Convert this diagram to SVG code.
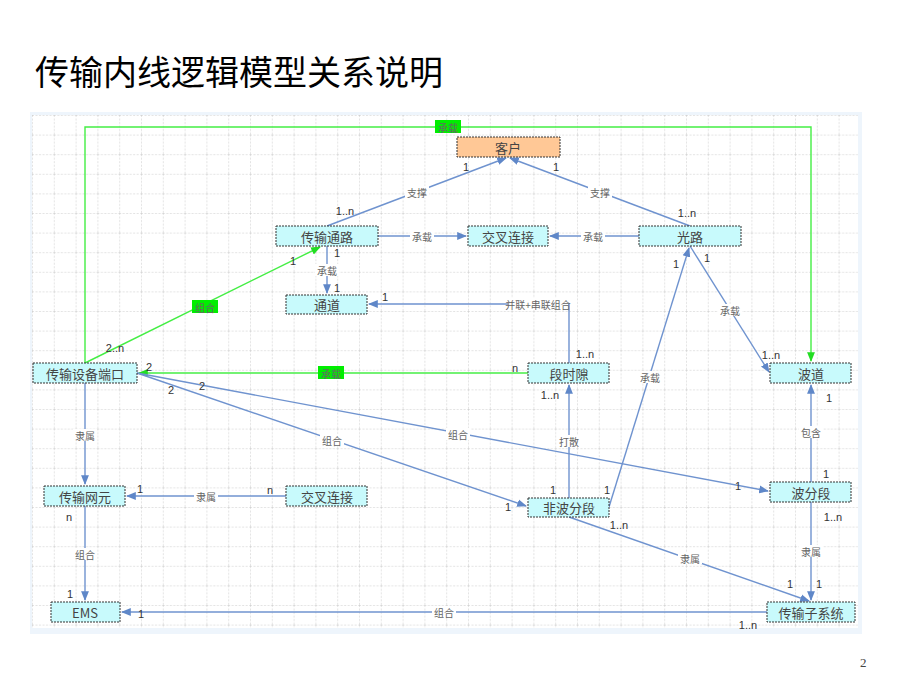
<svg xmlns="http://www.w3.org/2000/svg" width="920" height="690" viewBox="0 0 920 690">
<defs>
<pattern id="grid" x="32" y="115" width="21.8" height="19.6" patternUnits="userSpaceOnUse">
<path d="M0 0V19.6M0 0H21.8" fill="none" stroke="#b8b8b8" stroke-width="0.8" stroke-dasharray="2 1.5"/>
</pattern>
<marker id="a" viewBox="0 0 10 10" refX="9" refY="5" markerWidth="7" markerHeight="7" orient="auto-start-reverse"><path d="M0 1L10 5L0 9z" fill="#5f87c8"/></marker>
<marker id="g" viewBox="0 0 10 10" refX="9" refY="5" markerWidth="7" markerHeight="7" orient="auto-start-reverse"><path d="M0 1L10 5L0 9z" fill="#22dd22"/></marker>
</defs>
<style>
.n rect{fill:#c8fafc;stroke:#333;stroke-width:1;stroke-dasharray:2 1}
.n text{font-family:"Noto Sans CJK SC","Liberation Serif",serif;font-size:13px;fill:#444;text-anchor:middle;dominant-baseline:central}
.b{stroke:#6f93cf;stroke-width:1.4;fill:none;marker-end:url(#a)}
.gr{stroke:#44ee44;stroke-width:1.4;fill:none}
.lb{font-family:"Noto Sans CJK SC",sans-serif;font-size:10px;fill:#666;text-anchor:middle;dominant-baseline:central}
.lbbg{fill:#fff}
.glb{fill:#00ee00}
.m{font-family:"Liberation Sans",sans-serif;font-size:11px;fill:#333;text-anchor:middle}
</style>
<rect width="920" height="690" fill="#fff"/>
<text x="35" y="85" font-family="Noto Sans CJK SC,sans-serif" font-size="34" fill="#000">传输内线逻辑模型关系说明</text>
<rect x="30" y="112" width="832" height="522" fill="#eef5fc"/>
<rect x="32" y="115" width="826" height="513" fill="#fff"/>
<rect x="32" y="115" width="826" height="513" fill="url(#grid)"/>
<g id="connectors">
<path class="gr" d="M85 363V127H811V361" marker-end="url(#g)"/>
<path class="gr" d="M85 363L320 247" marker-end="url(#g)"/>
<path class="gr" d="M528 373H139" marker-end="url(#g)"/>
<path class="b" d="M327 226L506 158"/>
<path class="b" d="M690 226L510 158"/>
<path class="b" d="M378 236H466"/>
<path class="b" d="M639 236H550"/>
<path class="b" d="M327 246V293"/>
<path class="b" d="M569 363V304H369"/>
<path class="b" d="M690 246L769 372"/>
<path class="b" d="M609 507L689 248"/>
<path class="b" d="M569 498V385"/>
<path class="b" d="M811 482V385"/>
<path class="b" d="M137 373L768 491"/>
<path class="b" d="M137 373L526 506"/>
<path class="b" d="M85 383V484"/>
<path class="b" d="M286 496H127"/>
<path class="b" d="M85 506V600"/>
<path class="b" d="M767 612H122"/>
<path class="b" d="M811 502V600"/>
<path class="b" d="M569 517L809 601"/>
<rect class="glb" x="435" y="120" width="26" height="13"/><text class="lb" x="448" y="127" fill="#333">承载</text>
<rect class="glb" x="192" y="300" width="26" height="13"/><text class="lb" x="205" y="307">组合</text>
<rect class="glb" x="318" y="366" width="26" height="13"/><text class="lb" x="331" y="373">承载</text>
<g>
<rect class="lbbg" x="405" y="186" width="24" height="12"/><text class="lb" x="417" y="192">支撑</text>
<rect class="lbbg" x="588" y="186" width="24" height="12"/><text class="lb" x="600" y="192">支撑</text>
<rect class="lbbg" x="410" y="230" width="24" height="12"/><text class="lb" x="422" y="236">承载</text>
<rect class="lbbg" x="581" y="230" width="24" height="12"/><text class="lb" x="593" y="236">承载</text>
<rect class="lbbg" x="315" y="264" width="24" height="12"/><text class="lb" x="327" y="270">承载</text>
<rect class="lbbg" x="508" y="298" width="60" height="12"/><text class="lb" x="538" y="304">并联+串联组合</text>
<rect class="lbbg" x="718" y="304" width="24" height="12"/><text class="lb" x="730" y="310">承载</text>
<rect class="lbbg" x="638" y="371" width="24" height="12"/><text class="lb" x="650" y="377">承载</text>
<rect class="lbbg" x="557" y="435" width="24" height="12"/><text class="lb" x="569" y="441">打散</text>
<rect class="lbbg" x="799" y="426" width="24" height="12"/><text class="lb" x="811" y="432">包含</text>
<rect class="lbbg" x="446" y="428" width="24" height="12"/><text class="lb" x="458" y="434">组合</text>
<rect class="lbbg" x="320" y="434" width="24" height="12"/><text class="lb" x="332" y="440">组合</text>
<rect class="lbbg" x="73" y="429" width="24" height="12"/><text class="lb" x="85" y="435">隶属</text>
<rect class="lbbg" x="194" y="490" width="24" height="12"/><text class="lb" x="206" y="496">隶属</text>
<rect class="lbbg" x="73" y="548" width="24" height="12"/><text class="lb" x="85" y="554">组合</text>
<rect class="lbbg" x="432" y="606" width="24" height="12"/><text class="lb" x="444" y="612">组合</text>
<rect class="lbbg" x="799" y="545" width="24" height="12"/><text class="lb" x="811" y="551">隶属</text>
<rect class="lbbg" x="678" y="552" width="24" height="12"/><text class="lb" x="690" y="558">隶属</text>
</g>
<g class="mult">
<text class="m" x="115" y="352">2..n</text><text class="m" x="293" y="265">1</text>
<text class="m" x="515" y="372">n</text><text class="m" x="149" y="371">2</text>
<text class="m" x="345" y="215">1..n</text><text class="m" x="466" y="171">1</text>
<text class="m" x="687" y="217">1..n</text><text class="m" x="556" y="171">1</text>
<text class="m" x="337" y="257">1</text><text class="m" x="337" y="292">1</text>
<text class="m" x="385" y="301">1</text><text class="m" x="585" y="358">1..n</text>
<text class="m" x="707" y="262">1</text><text class="m" x="771" y="359">1..n</text>
<text class="m" x="607" y="494">1</text><text class="m" x="676" y="268">1</text>
<text class="m" x="553" y="494">1</text><text class="m" x="550" y="399">1..n</text>
<text class="m" x="829" y="402">1</text><text class="m" x="826" y="478">1</text>
<text class="m" x="202" y="390">2</text><text class="m" x="738" y="490">1</text>
<text class="m" x="171" y="394">2</text><text class="m" x="508" y="511">1</text>
<text class="m" x="140" y="493">1</text><text class="m" x="270" y="494">n</text>
<text class="m" x="69" y="521">n</text><text class="m" x="70" y="598">1</text>
<text class="m" x="141" y="618">1</text><text class="m" x="748" y="629">1..n</text>
<text class="m" x="833" y="521">1..n</text><text class="m" x="819" y="588">1</text>
<text class="m" x="619" y="529">1..n</text><text class="m" x="790" y="588">1</text>
</g>
</g>
<g id="kehu" class="n"><rect x="457" y="137" width="103" height="20" style="fill:#ffc896"/><text x="508" y="147">客户</text></g>
<g id="tongl" class="n"><rect x="276" y="226" width="102" height="20"/><text x="327" y="236">传输通路</text></g>
<g id="jc1" class="n"><rect x="468" y="226" width="80" height="20"/><text x="508" y="236">交叉连接</text></g>
<g id="guanglu" class="n"><rect x="639" y="226" width="102" height="20"/><text x="690" y="236">光路</text></g>
<g id="tongdao" class="n"><rect x="286" y="295" width="81" height="19"/><text x="327" y="304">通道</text></g>
<g id="port" class="n"><rect x="33" y="363" width="104" height="20"/><text x="85" y="373">传输设备端口</text></g>
<g id="sdsx" class="n"><rect x="528" y="363" width="81" height="20"/><text x="569" y="373">段时隙</text></g>
<g id="bodao" class="n"><rect x="770" y="363" width="81" height="20"/><text x="811" y="373">波道</text></g>
<g id="wy" class="n"><rect x="44" y="486" width="81" height="20"/><text x="85" y="496">传输网元</text></g>
<g id="jc2" class="n"><rect x="286" y="486" width="81" height="20"/><text x="327" y="496">交叉连接</text></g>
<g id="fbfd" class="n"><rect x="528" y="498" width="81" height="19"/><text x="569" y="507">非波分段</text></g>
<g id="bfd" class="n"><rect x="770" y="482" width="81" height="20"/><text x="811" y="492">波分段</text></g>
<g id="ems" class="n"><rect x="51" y="602" width="69" height="20"/><text x="85" y="612">EMS</text></g>
<g id="zxt" class="n"><rect x="767" y="602" width="88" height="20"/><text x="811" y="612">传输子系统</text></g>
<text x="860" y="667" font-family="Liberation Serif,serif" font-size="13" fill="#444">2</text>
</svg>
